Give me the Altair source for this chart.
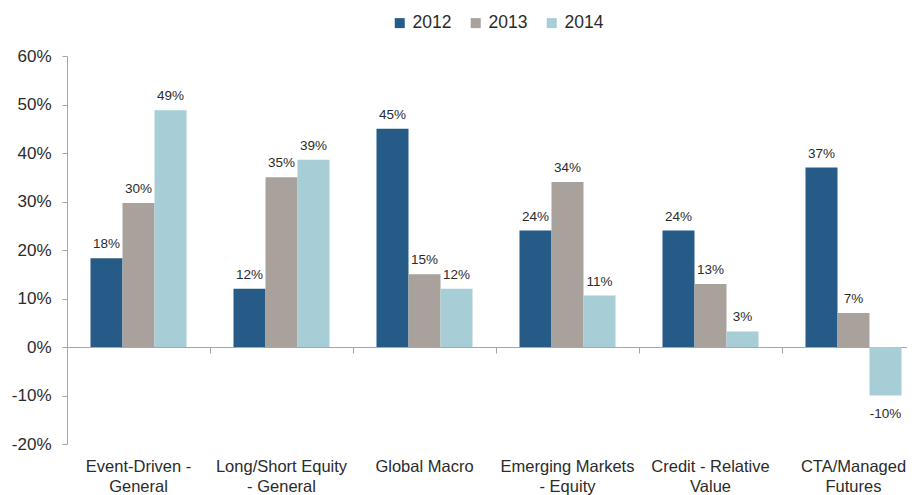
import altair as alt
import pandas as pd

categories = [
    "Event-Driven -\nGeneral",
    "Long/Short Equity\n- General",
    "Global Macro",
    "Emerging Markets\n- Equity",
    "Credit - Relative\nValue",
    "CTA/Managed\nFutures",
]
years = ["2012", "2013", "2014"]
v2012 = [0.183, 0.12, 0.45, 0.24, 0.24, 0.37]
v2013 = [0.297, 0.35, 0.15, 0.34, 0.13, 0.07]
v2014 = [0.488, 0.386, 0.12, 0.106, 0.032, -0.10]
colors = ["#265B88", "#A9A19B", "#A7CDD6"]
y_ticks = [-0.2, -0.1, 0.0, 0.1, 0.2, 0.3, 0.4, 0.5, 0.6]

rows = []
for yr, vals in zip(years, [v2012, v2013, v2014]):
    for c, v in zip(categories, vals):
        rows.append({"category": c, "year": yr, "value": v})
df = pd.DataFrame(rows)

FONT = "Liberation Sans"
TXT = "#2B2B2B"
AX = "#A6A6A6"

xscale = alt.Scale(domain=categories, range=[0, 858], paddingInner=0, paddingOuter=0)
oscale = alt.Scale(domain=years, paddingInner=0, paddingOuter=0.734)
yscale = alt.Scale(domain=[-0.2, 0.6], nice=False, zero=False)

yaxis = alt.Axis(
    values=y_ticks, labelExpr="round(datum.value*100) + '%'", grid=False,
    domainColor=AX, tickColor=AX, tickSize=5, labelPadding=11,
    labelFontSize=17, labelFont=FONT, labelColor=TXT, title=None,
)

base = alt.Chart(df)

bars = base.mark_bar().encode(
    x=alt.X("category:N", sort=categories, scale=xscale, axis=alt.Axis(
        orient="bottom", title=None, domain=False, ticks=False,
        labelExpr="split(datum.value, '\\n')", labelAngle=0,
        labelFontSize=16.5, labelFont=FONT, labelColor=TXT,
        labelPadding=14, labelLineHeight=20, labelBound=False)),
    xOffset=alt.XOffset("year:N", scale=oscale, sort=years),
    y=alt.Y("value:Q", scale=yscale, axis=yaxis),
    color=alt.Color("year:N", scale=alt.Scale(domain=years, range=colors),
                    legend=alt.Legend(
                        title=None, orient="none", legendX=324, legendY=-42,
                        direction="horizontal", symbolType="square",
                        symbolSize=100, labelFontSize=17.5, labelFont=FONT,
                        labelColor=TXT, columnPadding=15, padding=0,
                        labelOffset=4, symbolStrokeWidth=0)),
)

pos = base.transform_filter("datum.value >= 0").transform_calculate(
    label="round(datum.value*100) + '%'"
).mark_text(baseline="bottom", dy=-7, fontSize=13.5, font=FONT, color=TXT).encode(
    x=alt.X("category:N", sort=categories, scale=xscale, axis=alt.Axis(
        orient="bottom", title=None, labels=False, offset=-97, bandPosition=0,
        tickSize=6, tickColor=AX, domainColor=AX, grid=False)),
    xOffset=alt.XOffset("year:N", scale=oscale, sort=years),
    y=alt.Y("value:Q", scale=yscale, axis=yaxis),
    text="label:N",
)

neg = base.transform_filter("datum.value < 0").transform_calculate(
    label="round(datum.value*100) + '%'"
).mark_text(baseline="top", dy=11, fontSize=13.5, font=FONT, color=TXT).encode(
    x=alt.X("category:N", sort=categories, scale=xscale, axis=None),
    xOffset=alt.XOffset("year:N", scale=oscale, sort=years),
    y=alt.Y("value:Q", scale=yscale, axis=yaxis),
    text="label:N",
)

chart = alt.layer(bars, pos, neg).resolve_axis(x="independent").properties(
    width=840, height=388,
    autosize=alt.AutoSizeParams(type="none"),
    padding={"left": 59, "top": 48, "right": 0, "bottom": 51},
).configure_view(stroke=None)

chart.save("out.html", embed_options={"renderer": "svg", "actions": False})
